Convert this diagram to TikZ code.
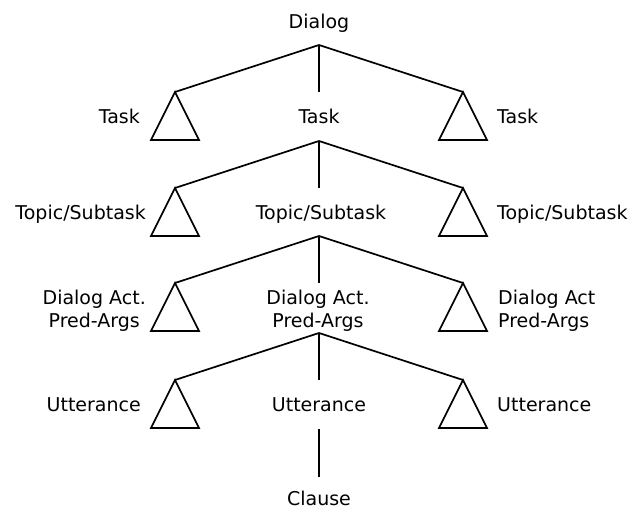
\documentclass[tikz,border=0pt]{standalone}
\usepackage{fontspec}
\setmainfont{DejaVu Sans}
\begin{document}
\begin{tikzpicture}[x=1pt,y=-1pt,
  lbl/.style={inner sep=0pt, font=\fontsize{19}{22.5}\selectfont},
  twoline/.style={lbl, align=center},
  branch/.style={line width=1.7pt, line join=miter},
  subtree/.style={line width=1.7pt, line join=miter}]
\useasboundingbox (0,0) rectangle (632,510);

% one level of the hierarchy: split point, two collapsed subtrees, stem
\foreach \lv/\y in {1/45, 2/141, 3/236, 4/333}{
  \coordinate (split\lv) at (319,\y);
  \coordinate (left\lv)  at (175,\y+47);
  \coordinate (right\lv) at (463,\y+47);
  \coordinate (stem\lv)  at (319,\y+47);
  \draw[branch] (left\lv) -- (split\lv) -- (right\lv);
  \draw[branch] (split\lv) -- (stem\lv);
  \draw[subtree] (left\lv) -- ++(-24,48) -- ++(48,0) -- cycle;
  \draw[subtree] (right\lv) -- ++(-24,48) -- ++(48,0) -- cycle;
}

% labels
\node[lbl, anchor=base] (dialog) at (319,29) {Dialog};

\node[lbl, anchor=base east] (taskL) at (140,124) {Task};
\node[lbl, anchor=base]      (taskC) at (319,124) {Task};
\node[lbl, anchor=base west] (taskR) at (497,124) {Task};

\node[lbl, anchor=base east] (topicL) at (146,220) {Topic/Subtask};
\node[lbl, anchor=base]      (topicC) at (321,220) {Topic/Subtask};
\node[lbl, anchor=base west] (topicR) at (497,220) {Topic/Subtask};

\node[twoline, anchor=east] (actL) at (146,311) {Dialog Act.\\Pred-Args};
\node[twoline]              (actC) at (318,311) {Dialog Act.\\Pred-Args};
\node[twoline, anchor=west, align=left] (actR) at (498,311) {Dialog Act\\Pred-Args};

\node[lbl, anchor=base east] (uttL) at (141,412) {Utterance};
\node[lbl, anchor=base]      (uttC) at (319,412) {Utterance};
\node[lbl, anchor=base west] (uttR) at (497,412) {Utterance};

\coordinate (clauseTop) at (319,429);
\node[lbl, anchor=base] (clause) at (319,505) {Clause};
\draw[branch] (clauseTop) -- (319,477) coordinate (clauseStem);
\end{tikzpicture}
\end{document}
